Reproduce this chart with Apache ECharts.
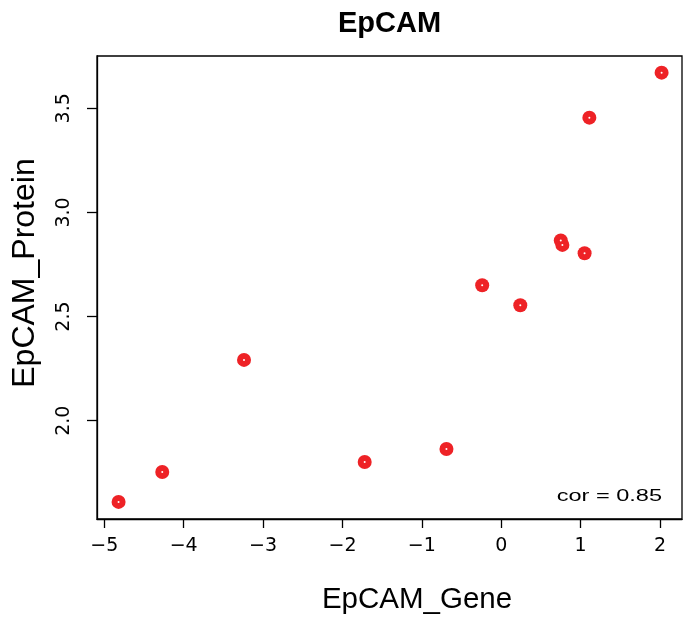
<!DOCTYPE html>
<html>
<head>
<meta charset="utf-8">
<script src="https://cdn.jsdelivr.net/npm/echarts@6/dist/echarts.min.js"></script>
<style>html,body{margin:0;padding:0;background:#fff}#c{width:685px;height:618px}</style>
</head>
<body>
<div id="c"></div>
<script>
var geneX = [-4.82, -4.27, -3.24, -1.72, -0.69, -0.24, 0.24, 0.75, 0.77, 1.05, 1.11, 2.02];
var proteinY = [1.61, 1.754, 2.292, 1.802, 1.864, 2.65, 2.554, 2.865, 2.844, 2.804, 3.455, 3.671];
var xTicks = [-5, -4, -3, -2, -1, 0, 1, 2];
var yTicks = [2.0, 2.5, 3.0, 3.5];
var titleText = 'EpCAM';
var xName = 'EpCAM_Gene';
var yName = 'EpCAM_Protein';
var corText = 'cor = 0.85';

var pts = geneX.map(function (x, i) { return [x, proteinY[i]]; });
var font = '"Liberation Sans", Arial, Helvetica, sans-serif';
var tickFont = '"DejaVu Sans", sans-serif';

var chart = echarts.init(document.getElementById('c'), null, {renderer: 'canvas'});
chart.setOption({
  animation: false,
  backgroundColor: '#ffffff',
  grid: {left: 97, right: 3, top: 56, bottom: 99, show: true, borderColor: '#000', borderWidth: 1.3, backgroundColor: 'transparent'},
  xAxis: {
    type: 'value', min: -5.092, max: 2.277,
    axisLine: {show: true, onZero: false, lineStyle: {color: '#000', width: 1.3}},
    axisTick: {show: true, length: 9, customValues: xTicks, lineStyle: {color: '#000', width: 1.3}},
    axisLabel: {
      customValues: xTicks, margin: 18, fontFamily: tickFont, fontSize: 19, color: '#000',
      formatter: function (v) { return String(v).replace('-', '\u2212'); }
    },
    splitLine: {show: false}
  },
  yAxis: {
    type: 'value', min: 1.528, max: 3.751,
    axisLine: {show: true, onZero: false, lineStyle: {color: '#000', width: 1.3}},
    axisTick: {show: true, length: 10, customValues: yTicks, lineStyle: {color: '#000', width: 1.3}},
    axisLabel: {
      customValues: yTicks, rotate: 90, margin: 23, fontFamily: tickFont, fontSize: 19, color: '#000',
      formatter: function (v) { return v.toFixed(1); }
    },
    splitLine: {show: false}
  },
  series: [
    {type: 'scatter', data: pts, symbol: 'circle', symbolSize: 14, itemStyle: {color: '#ee2226', opacity: 1}, z: 2},
    {type: 'scatter', data: pts, symbol: 'circle', symbolSize: 2, itemStyle: {color: '#ffffff', opacity: 1}, z: 3}
  ],
  graphic: [
    {type: 'text', x: 389.5, y: 24, style: {text: titleText, font: 'bold 29px ' + font, fill: '#000', textAlign: 'center', textVerticalAlign: 'middle'}},
    {type: 'text', x: 417, y: 600, style: {text: xName, font: '29.5px ' + font, fill: '#000', textAlign: 'center', textVerticalAlign: 'middle'}},
    {type: 'text', x: 25, y: 273, rotation: Math.PI / 2, style: {text: yName, font: '32px ' + font, fill: '#000', textAlign: 'center', textVerticalAlign: 'middle'}},
    {type: 'text', x: 662, y: 497, scaleX: 1.47, style: {text: corText, font: '16px ' + font, fill: '#000', textAlign: 'right', textVerticalAlign: 'middle'}}
  ]
});
</script>
</body>
</html>
